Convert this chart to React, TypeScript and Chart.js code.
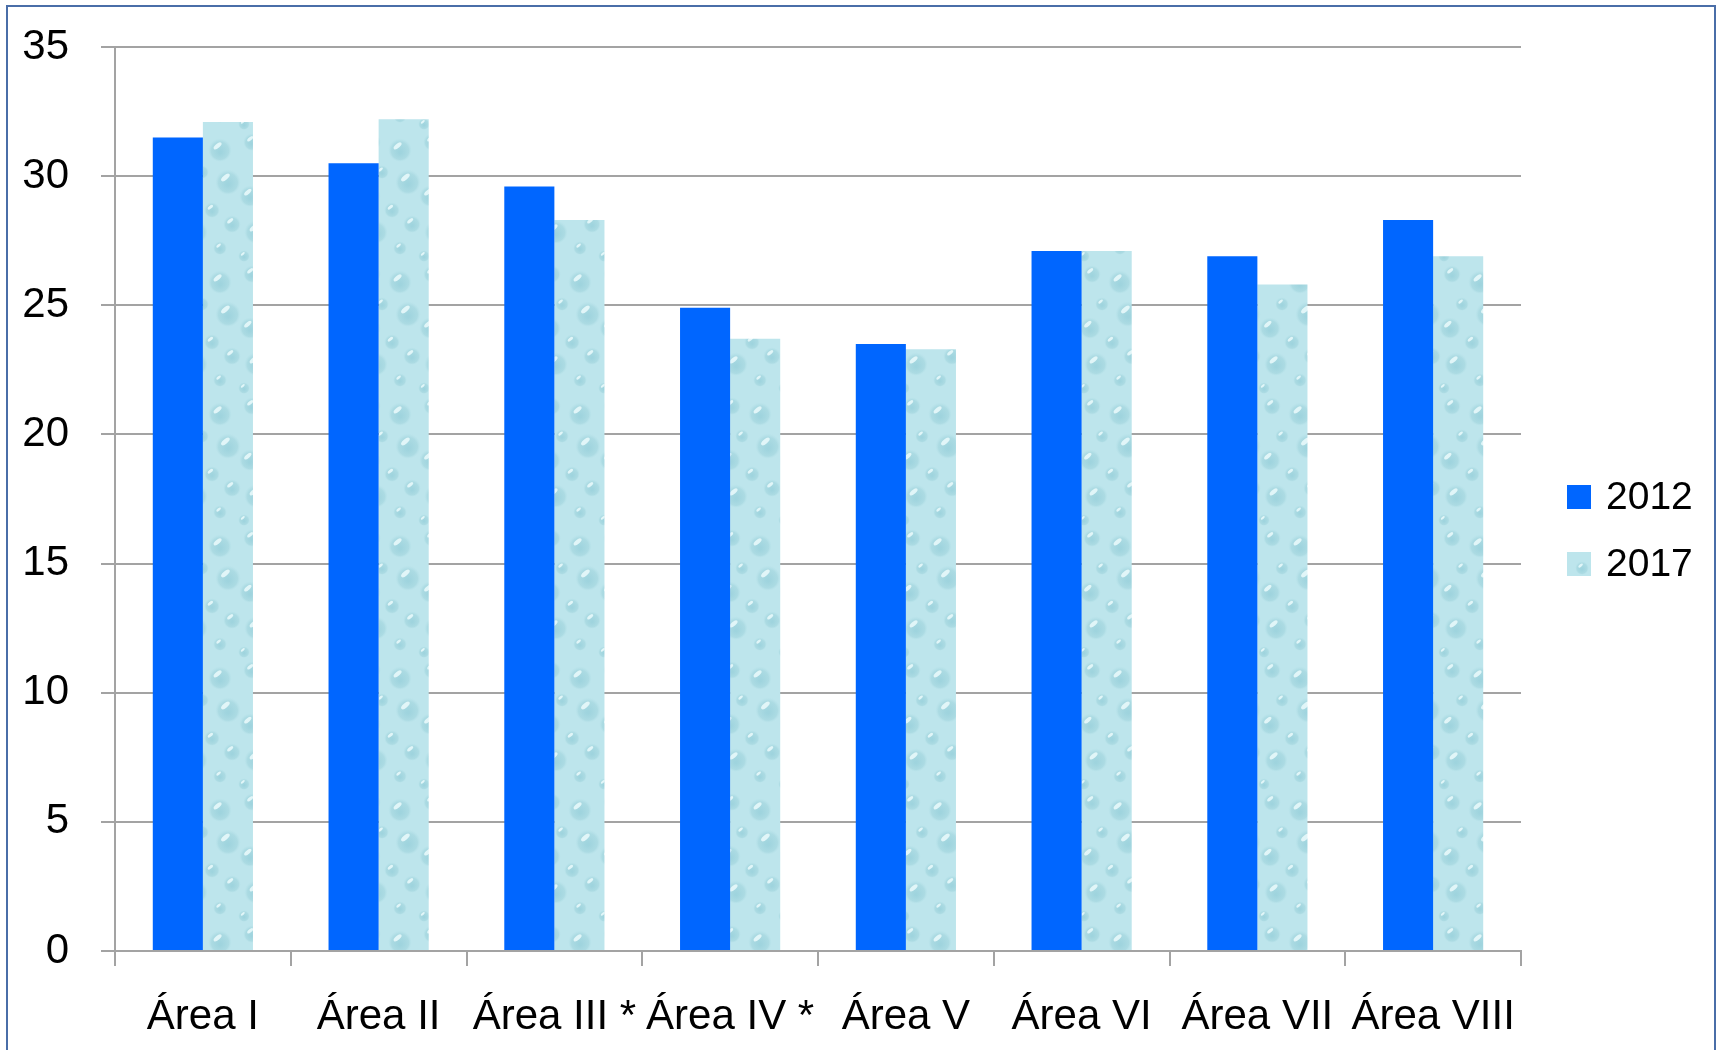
import React, { useEffect, useRef } from "react";
import { Chart, registerables } from "chart.js";

Chart.register(...registerables);

const categories = ["Área I", "Área II", "Área III *", "Área IV *", "Área V", "Área VI", "Área VII", "Área VIII"];
const values2012 = [31.5, 30.5, 29.6, 24.9, 23.5, 27.1, 26.9, 28.3];
const values2017 = [32.1, 32.2, 28.3, 23.7, 23.3, 27.1, 25.8, 26.9];
const seriesLabels = ["2012", "2017"];
const yMin = 0;
const yMax = 35;
const yStep = 5;

const FONT = "'Liberation Sans', Arial, sans-serif";
const BLUE = "#0066ff";
const GRID = "#a3a3a3";

// fixed bubble layout for the "water drops" texture: [x, y, r]
const bubbles: number[][] = [
  [12, 10, 9], [40, 18, 12], [22, 40, 7], [48, 50, 13], [10, 64, 11],
  [32, 78, 8], [52, 92, 9], [16, 100, 12], [40, 116, 7], [4, 124, 6],
];

function makeDropPattern(): CanvasPattern | string {
  const c = document.createElement("canvas");
  c.width = 60;
  c.height = 132;
  const g = c.getContext("2d");
  if (!g) return "#b8e4ec";
  g.fillStyle = "#bde5ec";
  g.fillRect(0, 0, c.width, c.height);
  for (const [x, y, r] of bubbles) {
    for (const dx of [-60, 0, 60]) {
      for (const dy of [-132, 0, 132]) {
        const cx = x + dx;
        const cy = y + dy;
        const grad = g.createRadialGradient(cx, cy + r * 0.2, r * 0.1, cx, cy, r);
        grad.addColorStop(0, "#9fd4de");
        grad.addColorStop(0.7, "#acdbe3");
        grad.addColorStop(1, "rgba(190,230,237,0.4)");
        g.fillStyle = grad;
        g.beginPath();
        g.arc(cx, cy, r, 0, Math.PI * 2);
        g.fill();
        g.fillStyle = "rgba(235,250,252,0.85)";
        g.beginPath();
        g.ellipse(cx - r * 0.2, cy - r * 0.35, r * 0.4, r * 0.18, -0.7, 0, Math.PI * 2);
        g.fill();
      }
    }
  }
  const pat = g.createPattern(c, "repeat");
  return pat || "#b8e4ec";
}

const legendPlugin = {
  id: "customLegend",
  afterDraw(chart: any) {
    const ctx = chart.ctx;
    const ds = chart.data.datasets;
    const x = 1567;
    const ys = [485, 552];
    ctx.save();
    ds.forEach((d: any, i: number) => {
      const y = ys[i];
      ctx.fillStyle = d.backgroundColor;
      ctx.fillRect(x, y, 24, 24);
      ctx.fillStyle = "#000";
      ctx.font = `39px ${FONT}`;
      ctx.textAlign = "left";
      ctx.textBaseline = "middle";
      ctx.fillText(d.label, x + 39, y + 13);
    });
    ctx.restore();
  },
};

export default function App() {
  const ref = useRef<HTMLCanvasElement>(null);

  useEffect(() => {
    const canvas = ref.current;
    if (!canvas) return;
    const pattern = makeDropPattern();
    const chart = new Chart(canvas, {
      type: "bar",
      data: {
        labels: categories,
        datasets: [
          { label: seriesLabels[0], data: values2012, backgroundColor: BLUE, borderWidth: 0 },
          { label: seriesLabels[1], data: values2017, backgroundColor: pattern as any, borderWidth: 0 },
        ],
      },
      options: {
        responsive: false,
        animation: false,
        devicePixelRatio: 1,
        layout: { padding: { top: 47, right: 200, left: 0, bottom: 0 } },
        datasets: { bar: { categoryPercentage: 0.57, barPercentage: 1 } },
        plugins: {
          legend: { display: false },
          tooltip: { enabled: false },
        },
        scales: {
          x: {
            grid: {
              display: true,
              drawOnChartArea: false,
              drawTicks: true,
              tickLength: 15,
              color: GRID,
              lineWidth: 2,
              offset: true,
            },
            border: { display: true, color: GRID, width: 2 },
            ticks: {
              color: "#000",
              font: { family: FONT, size: 42 },
              padding: 26,
              maxRotation: 0,
              autoSkip: false,
            },
            afterFit: (s: any) => {
              s.height = 99;
              s.paddingLeft = 0;
              s.paddingRight = 0;
            },
          },
          y: {
            min: yMin,
            max: yMax,
            grid: { color: GRID, lineWidth: 2, tickLength: 14, drawTicks: true },
            border: { display: true, color: GRID, width: 2 },
            ticks: {
              stepSize: yStep,
              color: "#000",
              font: { family: FONT, size: 42 },
              padding: 32,
            },
            afterFit: (s: any) => {
              s.width = 115;
              s.paddingTop = 0;
              s.paddingBottom = 0;
            },
          },
        },
      },
      plugins: [legendPlugin],
    });
    return () => chart.destroy();
  }, []);

  return (
    <div
      style={{
        position: "fixed",
        left: 0,
        top: 0,
        width: 1721,
        height: 1050,
        overflow: "hidden",
        background: "#fff",
      }}
    >
      <canvas ref={ref} width={1721} height={1050} style={{ position: "absolute", left: 0, top: 0 }} />
      <div
        style={{
          position: "absolute",
          left: 6,
          top: 5,
          width: 1706,
          height: 1100,
          border: "2px solid #4a6ea8",
          pointerEvents: "none",
        }}
      />
    </div>
  );
}
